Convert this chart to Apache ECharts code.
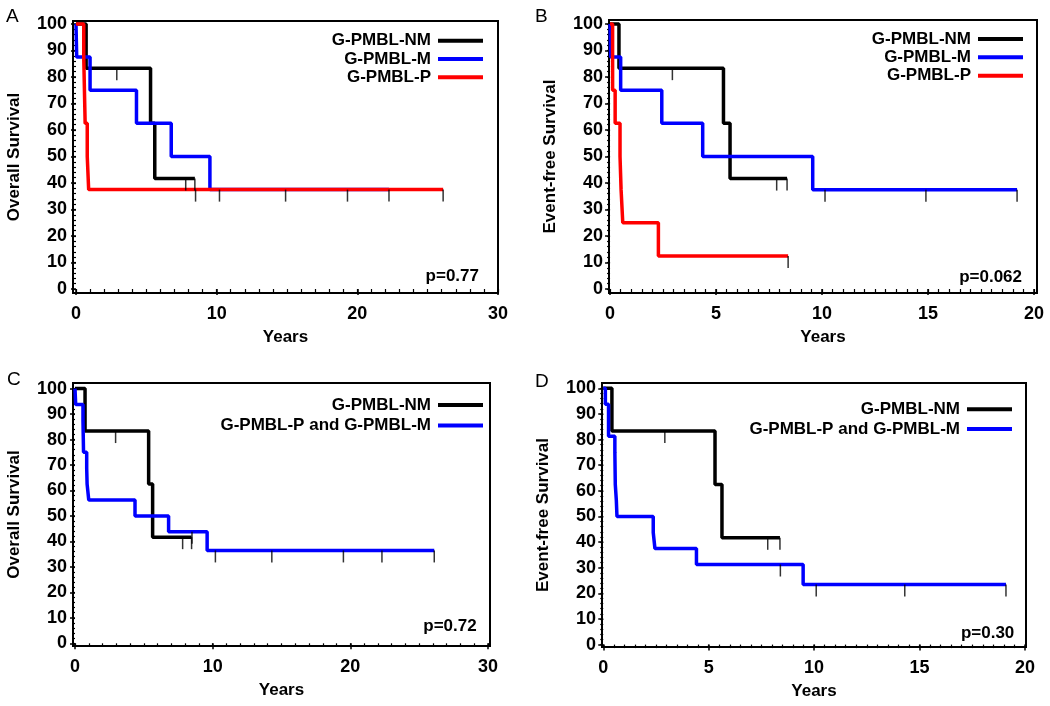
<!DOCTYPE html>
<html><head><meta charset="utf-8">
<script src="https://cdn.jsdelivr.net/npm/echarts@6/dist/echarts.min.js"></script>
<style>html,body{margin:0;padding:0;background:#fff}#c{width:1050px;height:706px}</style>
</head><body><div id="c"></div>
<script>
// ---------- DATA (Kaplan–Meier step curves: event times, survival %, last follow-up, censor times) ----------
// Panel A – Overall survival
const A_NM_t = [0, 0.72, 5.3, 5.6];
const A_NM_s = [100, 83.33, 62.5, 41.67];
const A_NM_end = 8.45;
const A_NM_cens = [2.9, 7.8, 8.45];
const A_M_t = [0, 0.05, 1.0, 4.3, 6.77, 9.52];
const A_M_s = [100, 87.5, 75, 62.5, 50, 37.5];
const A_M_end = 22.25;
const A_M_cens = [10.2, 14.9, 22.25];
const A_P_t = [0, 0.55, 0.6, 0.65, 0.8, 0.9];
const A_P_s = [100, 87.5, 75, 62.5, 50, 37.5];
const A_P_end = 26.1;
const A_P_cens = [8.5, 19.3, 26.1];
// Panel B – Event-free survival
const B_NM_t = [0, 0.42, 5.35, 5.66];
const B_NM_s = [100, 83.33, 62.5, 41.67];
const B_NM_end = 8.35;
const B_NM_cens = [2.94, 7.86, 8.35];
const B_M_t = [0, 0.03, 0.5, 2.44, 4.37, 9.56];
const B_M_s = [100, 87.5, 75, 62.5, 50, 37.5];
const B_M_end = 19.2;
const B_M_cens = [10.14, 14.9, 19.2];
const B_P_t = [0, 0.12, 0.24, 0.47, 0.52, 0.6, 2.28];
const B_P_s = [100, 75, 62.5, 50, 37.5, 25, 12.5];
const B_P_end = 8.4;
const B_P_cens = [8.4];
// Panel C – Overall survival, NM vs P+M
const C_NM_t = [0, 0.73, 5.35, 5.64];
const C_NM_s = [100, 83.33, 62.5, 41.67];
const C_NM_end = 8.47;
const C_NM_cens = [2.95, 7.82, 8.47];
const C_PM_t = [0, 0.05, 0.58, 0.6, 0.62, 0.85, 0.88, 1.0, 4.36, 6.8, 9.6];
const C_PM_s = [100, 93.75, 87.5, 81.25, 75, 68.75, 62.5, 56.25, 50, 43.75, 36.46];
const C_PM_end = 26.1;
const C_PM_cens = [8.5, 10.2, 14.3, 19.5, 22.3, 26.1];
// Panel D – Event-free survival, NM vs P+M
const D_NM_t = [0, 0.41, 5.3, 5.63];
const D_NM_s = [100, 83.33, 62.5, 41.67];
const D_NM_end = 8.38;
const D_NM_cens = [2.92, 7.8, 8.38];
const D_PM_t = [0, 0.1, 0.25, 0.55, 0.57, 0.62, 0.65, 2.37, 2.45, 4.42, 9.48];
const D_PM_s = [100, 93.75, 81.25, 75, 62.5, 56.25, 50, 43.75, 37.5, 31.25, 23.44];
const D_PM_end = 19.1;
const D_PM_cens = [8.4, 10.1, 14.3, 19.1];

// tick labels
const xTicks30 = [0, 10, 20, 30];
const xTicks20 = [0, 5, 10, 15, 20];
const yTicks = [0, 10, 20, 30, 40, 50, 60, 70, 80, 90, 100];
const pValues = ['p=0.77', 'p=0.062', 'p=0.72', 'p=0.30'];
const panelLetters = ['A', 'B', 'C', 'D'];
const yNames = ['Overall Survival', 'Event-free Survival', 'Overall Survival', 'Event-free Survival'];
const NAME_NM = 'G-PMBL-NM', NAME_M = 'G-PMBL-M', NAME_P = 'G-PMBL-P', NAME_PM = 'G-PMBL-P and G-PMBL-M';

// ---------- helpers ----------
function stepData(t, s, end) {
  const d = t.map((x, i) => [x, s[i]]);
  d.push([end, s[s.length - 1]]);
  return d;
}
function survAt(t, s, x) {
  let v = s[0];
  for (let i = 0; i < t.length; i++) if (t[i] <= x) v = s[i];
  return v;
}
function range(a, b, step) { const r = []; for (let v = a; v <= b + 1e-9; v += step) r.push(+v.toFixed(4)); return r; }

const FONT = '"Liberation Sans", Arial, Helvetica, sans-serif';
const BLACK = '#000000', BLUE = '#0000ff', RED = '#ff0000';

const grids = [
  { left: 73, top: 21, width: 425, height: 272 },
  { left: 609, top: 20, width: 428, height: 273 },
  { left: 73, top: 383, width: 417, height: 263 },
  { left: 602, top: 383, width: 424, height: 264 }
].map(g => Object.assign({ show: true, borderColor: '#000', borderWidth: 2, backgroundColor: 'transparent' }, g));

const xr = [[-0.213, 30], [-0.05, 20.14], [-0.145, 30.15], [-0.06, 20.05]];
const yr = [[-1.51, 101.13], [-1.5, 101.5], [-1.06, 102.2], [-0.94, 102.07]];
const xMajor = [xTicks30, xTicks20, xTicks30, xTicks20];
const xMinor = [range(0, 30, 1), range(0, 20, 0.5), range(0, 30, 1), range(0, 20, 0.5)];
const yMinor = range(0, 100, 2);

const labelStyle = { color: '#000', fontFamily: FONT, fontWeight: 'bold', fontSize: 17 };
const tickStyle = { color: '#000', fontFamily: FONT, fontWeight: 'bold', fontSize: 18 };
const xAxes = [], yAxes = [];
for (let p = 0; p < 4; p++) {
  xAxes.push({
    gridIndex: p, type: 'value', position: 'bottom', min: xr[p][0], max: xr[p][1],
    axisLine: { show: false }, splitLine: { show: false },
    axisTick: { customValues: xMajor[p], length: 6, lineStyle: { color: '#000', width: 1.5 } },
    axisLabel: Object.assign({ customValues: xMajor[p], margin: 12 }, tickStyle),
    name: 'Years', nameLocation: 'middle', nameGap: 36, nameTextStyle: labelStyle
  });
  xAxes.push({
    gridIndex: p, type: 'value', position: 'bottom', min: xr[p][0], max: xr[p][1],
    axisLine: { show: false }, splitLine: { show: false },
    axisTick: { customValues: xMinor[p], length: 3.5, lineStyle: { color: '#000', width: 1.2 } },
    axisLabel: { show: false }
  });
  yAxes.push({
    gridIndex: p, type: 'value', position: 'left', min: yr[p][0], max: yr[p][1],
    axisLine: { show: false }, splitLine: { show: false },
    axisTick: { customValues: yTicks, length: 5, lineStyle: { color: '#000', width: 1.5 } },
    axisLabel: Object.assign({ customValues: yTicks, margin: 6 }, tickStyle),
    name: yNames[p], nameLocation: 'middle', nameGap: 50, nameTextStyle: labelStyle
  });
  yAxes.push({
    gridIndex: p, type: 'value', position: 'left', min: yr[p][0], max: yr[p][1],
    axisLine: { show: false }, splitLine: { show: false },
    axisTick: { customValues: yMinor, length: 3, lineStyle: { color: '#000', width: 1.2 } },
    axisLabel: { show: false }
  });
}

const series = [];
function addCurve(p, name, color, t, s, end, cens) {
  series.push({
    type: 'line', name: name, color: color, xAxisIndex: 2 * p, yAxisIndex: 2 * p,
    step: 'end', showSymbol: false, symbol: 'none', data: stepData(t, s, end),
    lineStyle: { color: color, width: 3.5 }, animation: false, silent: true, z: 3
  });
  series.push({
    type: 'scatter', name: 'censor-' + p + '-' + name, xAxisIndex: 2 * p, yAxisIndex: 2 * p,
    symbol: 'rect', symbolSize: [1.5, 12], symbolOffset: [0, 6],
    itemStyle: { color: '#000' }, data: cens.map(x => [x, survAt(t, s, x)]),
    animation: false, silent: true, z: 5
  });
}
addCurve(0, NAME_NM, BLACK, A_NM_t, A_NM_s, A_NM_end, A_NM_cens);
addCurve(0, NAME_M, BLUE, A_M_t, A_M_s, A_M_end, A_M_cens);
addCurve(0, NAME_P, RED, A_P_t, A_P_s, A_P_end, A_P_cens);
addCurve(1, NAME_NM, BLACK, B_NM_t, B_NM_s, B_NM_end, B_NM_cens);
addCurve(1, NAME_M, BLUE, B_M_t, B_M_s, B_M_end, B_M_cens);
addCurve(1, NAME_P, RED, B_P_t, B_P_s, B_P_end, B_P_cens);
addCurve(2, NAME_NM, BLACK, C_NM_t, C_NM_s, C_NM_end, C_NM_cens);
addCurve(2, NAME_PM, BLUE, C_PM_t, C_PM_s, C_PM_end, C_PM_cens);
addCurve(3, NAME_NM, BLACK, D_NM_t, D_NM_s, D_NM_end, D_NM_cens);
addCurve(3, NAME_PM, BLUE, D_PM_t, D_PM_s, D_PM_end, D_PM_cens);

function leg(name, right, centerY) {
  return {
    data: [name], right: right, top: centerY - 8.5, align: 'right', orient: 'horizontal',
    icon: 'rect', itemWidth: 45, itemHeight: 4, padding: 0, itemGap: 0, selectedMode: false,
    textStyle: { color: '#000', fontFamily: FONT, fontWeight: 'bold', fontSize: 17, padding: [0, 2, 0, 0] }
  };
}
const legends = [
  leg(NAME_NM, 567, 40.7), leg(NAME_M, 567, 59), leg(NAME_P, 567, 77.3),
  leg(NAME_NM, 27, 39), leg(NAME_M, 27, 57.3), leg(NAME_P, 27, 75.7),
  leg(NAME_NM, 567, 405), leg(NAME_PM, 567, 425.5),
  leg(NAME_NM, 38, 409.3), leg(NAME_PM, 38, 429)
];

const pPos = [[479, 276], [1022, 277.7], [476.7, 626.7], [1014.3, 633.3]];
const lPos = [[6, 17], [535, 17], [7, 380], [535, 381.7]];
const graphic = [];
for (let p = 0; p < 4; p++) {
  graphic.push({ type: 'text', x: pPos[p][0], y: pPos[p][1], silent: true,
    style: { text: pValues[p], align: 'right', verticalAlign: 'middle', fill: '#000', font: 'bold 17px ' + FONT } });
  graphic.push({ type: 'text', x: lPos[p][0], y: lPos[p][1], silent: true,
    style: { text: panelLetters[p], align: 'left', verticalAlign: 'middle', fill: '#000', font: '19px ' + FONT } });
}

const chart = echarts.init(document.getElementById('c'), null, { renderer: 'canvas' });
chart.setOption({
  backgroundColor: '#fff', animation: false,
  grid: grids, xAxis: xAxes, yAxis: yAxes, series: series, legend: legends, graphic: graphic
});
</script></body></html>
